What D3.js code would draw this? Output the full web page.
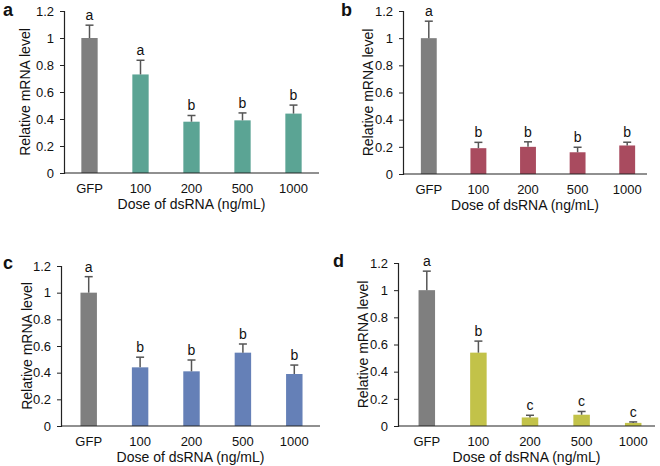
<!DOCTYPE html>
<html>
<head>
<meta charset="utf-8">
<script src="https://cdn.jsdelivr.net/npm/d3@7"></script>
<style>
  body { margin: 0; background: #fff; }
  svg { font-family: "Liberation Sans", Arial, sans-serif; }
</style>
</head>
<body>
<div class="canva"></div>
<script>
// data
const categories = ['GFP', '100', '200', '500', '1000'];
const yTickValues = [0, 0.2, 0.4, 0.6, 0.8, 1, 1.2];

const meansA = [1.0, 0.73, 0.38, 0.39, 0.44];
const errA = [0.095, 0.105, 0.046, 0.055, 0.063];
const lettersA = ['a', 'a', 'b', 'b', 'b'];

const meansB = [1.0, 0.19, 0.20, 0.16, 0.21];
const errB = [0.125, 0.043, 0.037, 0.037, 0.024];
const lettersB = ['a', 'b', 'b', 'b', 'b'];

const meansC = [1.0, 0.44, 0.41, 0.55, 0.39];
const errC = [0.12, 0.076, 0.085, 0.065, 0.067];
const lettersC = ['a', 'b', 'b', 'b', 'b'];

const meansD = [1.0, 0.54, 0.063, 0.083, 0.023];
const errD = [0.14, 0.085, 0.016, 0.024, 0.007];
const lettersD = ['a', 'b', 'c', 'c', 'c'];

const svg = d3.select('.canva').append('svg')
    .attr('width', 660)
    .attr('height', 466);

// panel layout
const panels = [
  {tag: 'a', means: meansA, err: errA, letters: lettersA, color: '#5ba494',
   x0: 64, x1: 319, band: [64, 319], yTop: 11, yBot: 173, tagX: 3, tagY: 16, titleX: 25},
  {tag: 'b', means: meansB, err: errB, letters: lettersB, color: '#a94b5f',
   x0: 403, x1: 647, band: [404, 652], yTop: 11, yBot: 174, tagX: 341, tagY: 16, titleX: 368},
  {tag: 'c', means: meansC, err: errC, letters: lettersC, color: '#6580b7',
   x0: 61, x1: 320, band: [63, 320], yTop: 266, yBot: 426, tagX: 3, tagY: 269, titleX: 27},
  {tag: 'd', means: meansD, err: errD, letters: lettersD, color: '#c2c249',
   x0: 398, x1: 655, band: [401, 659], yTop: 263, yBot: 426, tagX: 333, tagY: 267, titleX: 363}
];

panels.forEach(p => {
  const g = svg.append('g');

  const x = d3.scaleBand().domain(categories).range(p.band)
      .paddingInner(0.68).paddingOuter(0.34);
  const y = d3.scaleLinear().domain([0, 1.2]).range([p.yBot, p.yTop]);

  // y axis
  const yAxis = g.append('g')
      .attr('transform', `translate(${p.x0},0)`)
      .call(d3.axisLeft(y).tickValues(yTickValues).tickSize(4).tickPadding(6)
            .tickFormat(d => String(+d.toFixed(1))));
  yAxis.select('.domain').attr('stroke', '#222').attr('stroke-width', 1.2);
  yAxis.selectAll('.tick line').attr('stroke', '#222');
  yAxis.selectAll('text').attr('font-size', 13).attr('fill', '#111')
      .attr('font-family', '"Liberation Sans", Arial, sans-serif');

  // bars
  g.selectAll('rect.bar').data(p.means).enter().append('rect')
      .attr('class', 'bar')
      .attr('x', (d, i) => x(categories[i]))
      .attr('width', x.bandwidth())
      .attr('y', d => y(d))
      .attr('height', d => y(0) - y(d))
      .attr('fill', (d, i) => i === 0 ? '#7f7f7f' : p.color);

  // error bars
  const cx = i => x(categories[i]) + x.bandwidth() / 2;
  g.selectAll('line.err').data(p.means).enter().append('line')
      .attr('x1', (d, i) => cx(i)).attr('x2', (d, i) => cx(i))
      .attr('y1', d => y(d))
      .attr('y2', (d, i) => y(d + p.err[i]))
      .attr('stroke', '#555').attr('stroke-width', 1.5);
  g.selectAll('line.cap').data(p.means).enter().append('line')
      .attr('x1', (d, i) => cx(i) - 4).attr('x2', (d, i) => cx(i) + 4)
      .attr('y1', (d, i) => y(d + p.err[i]))
      .attr('y2', (d, i) => y(d + p.err[i]))
      .attr('stroke', '#555').attr('stroke-width', 1.5);

  // significance letters
  g.selectAll('text.sig').data(p.means).enter().append('text')
      .text((d, i) => p.letters[i])
      .attr('text-anchor', 'middle')
      .attr('x', (d, i) => cx(i))
      .attr('y', (d, i) => y(d + p.err[i]) - 5)
      .attr('font-size', 14)
      .attr('fill', '#111');

  // x axis line
  g.append('line')
      .attr('x1', p.x0).attr('x2', p.x1)
      .attr('y1', y(0)).attr('y2', y(0))
      .attr('stroke', '#222').attr('stroke-width', 1.2);

  // x tick labels
  g.selectAll('text.xl').data(categories).enter().append('text')
      .text(d => d)
      .attr('text-anchor', 'middle')
      .attr('x', d => x(d) + x.bandwidth() / 2)
      .attr('y', y(0) + 20)
      .attr('font-size', 13)
      .attr('fill', '#111');

  // axis titles
  g.append('text')
      .text('Dose of dsRNA (ng/mL)')
      .attr('text-anchor', 'middle')
      .attr('x', (p.x0 + p.x1) / 2)
      .attr('y', y(0) + 36)
      .attr('font-size', 14)
      .attr('fill', '#111');

  g.append('text')
      .text('Relative mRNA level')
      .attr('text-anchor', 'middle')
      .attr('transform', `translate(${p.titleX + 5},${(p.yTop + p.yBot) / 2}) rotate(-90)`)
      .attr('font-size', 14)
      .attr('fill', '#111');

  // panel tag
  g.append('text')
      .text(p.tag)
      .attr('x', p.tagX)
      .attr('y', p.tagY)
      .attr('font-size', 18)
      .attr('font-weight', 'bold')
      .attr('fill', '#111');
});
</script>
</body>
</html>
